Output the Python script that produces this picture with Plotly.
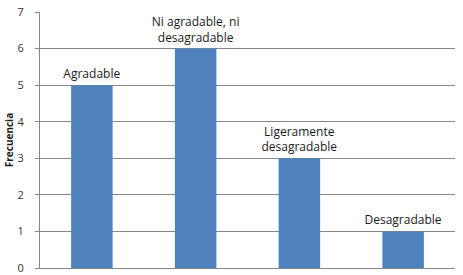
import plotly.graph_objects as go

categories = ["Agradable", "Ni agradable, ni desagradable", "Ligeramente desagradable", "Desagradable"]
labels = ["Agradable", "Ni agradable, ni<br>desagradable", "Ligeramente<br>desagradable", "Desagradable"]
values = [5, 6, 3, 1]
y_ticks = [0, 1, 2, 3, 4, 5, 6, 7]

fig = go.Figure(go.Bar(
    x=categories, y=values, text=labels, textposition="outside",
    constraintext="none",
    textfont=dict(family="Open Sans", size=12, color="#1a1a1a"),
    marker=dict(color="#4F81BD", line=dict(width=0)),
    width=0.4, cliponaxis=False,
))
fig.update_layout(
    width=463, height=275, margin=dict(l=40, r=8, t=12, b=7),
    paper_bgcolor="white", plot_bgcolor="white", showlegend=False,
    font=dict(family="Open Sans", size=11, color="#333333"),
)
fig.update_xaxes(showticklabels=False, showline=True, linecolor="#868686", linewidth=1,
                 showgrid=False, ticks="")
fig.update_yaxes(range=[0, 7], tickvals=y_ticks, showgrid=True, gridcolor="#868686", gridwidth=1,
                 showline=True, linecolor="#868686", linewidth=1, ticks="outside", ticklen=4,
                 tickcolor="#868686", zeroline=False, ticklabelstandoff=9,
                 ticklabeloverflow="allow", automargin=False,
                 title=dict(text="<b>Frecuencia</b>", font=dict(size=10, color="#1a1a1a"), standoff=2))
fig.write_html("out.html")
